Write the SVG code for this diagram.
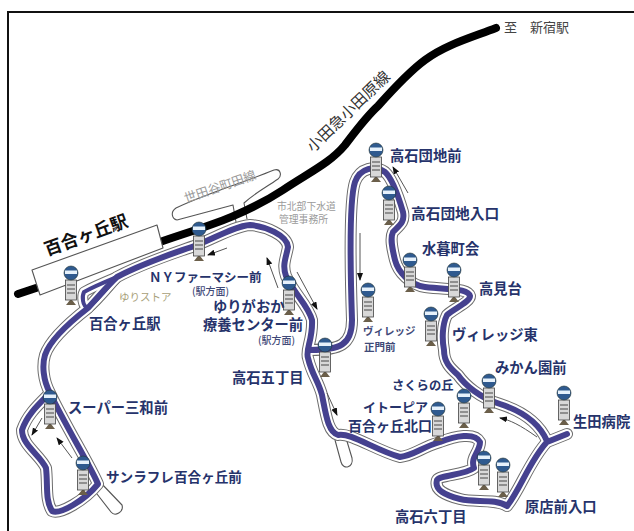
<svg xmlns="http://www.w3.org/2000/svg" xmlns:xlink="http://www.w3.org/1999/xlink" width="634" height="531" viewBox="0 0 634 531">
<style>
text{font-family:"Noto Sans CJK JP","Noto Sans",sans-serif}
.l{font-size:14.300px;font-weight:700;fill:#26336b}
.s{font-size:10px;font-weight:500;fill:#3f4a78}
.v{font-size:10.500px;font-weight:700;fill:#3f4a78}
.g{font-size:9.800px;fill:#9a9a9a}
.e{fill:none;stroke:#6d6d6d;stroke-width:12;stroke-linejoin:round;stroke-linecap:round}
.w{fill:none;stroke:#fff;stroke-width:10;stroke-linejoin:round;stroke-linecap:round}
.b{fill:none;stroke:#45418f;stroke-width:6;stroke-linejoin:round;stroke-linecap:round}
.a{fill:none;stroke:#555;stroke-width:1;marker-end:url(#ah)}
.o{fill:#fff;stroke:#555;stroke-width:1.100;stroke-linejoin:round}
</style>
<defs>
<marker id="ah" markerWidth="8" markerHeight="7" refX="7" refY="3" orient="auto" markerUnits="userSpaceOnUse"><path d="M0 0L8 3L0 6Z" fill="#111"/></marker>
<path id="r1" d="M50 393C38 405 27 415 22 430C22 445 40 455 46 468C48 485 45 500 52 511C60 515 85 500 98 484C90 465 65 425 50 393C43 380 42 365 45 355C50 340 70 322 88 308C100 295 108 285 117 277C145 262 175 253 197 245C215 238 235 226 250 225C265 226 287 235 288 247C286 258 282 265 286 276C295 295 308 305 312 320C313 340 305 350 308 358C312 375 318 380 322 395C326 415 328 432 338 435C350 432 375 450 400 457C415 455 420 448 440 442C455 436 475 432 480 442C480 452 470 457 474 468C465 475 440 475 437 480C434 490 445 495 460 499C475 503 495 498 507 506C520 490 530 460 547 442L567 434M547 441C540 425 525 412 500 404C480 398 465 385 458 375C450 368 444 362 444 350C442 340 442 325 447 315C455 308 470 302 470 296C468 288 450 290 425 287C410 285 398 272 395 260C392 248 390 238 393 232C400 225 405 222 403 212C398 195 392 178 385 172C375 165 360 168 355 182C349 200 350 260 352 320C352 345 340 350 310 350"/>
<path id="r2" d="M88 308C82 306 82 296 84 292C95 286 105 282 117 277C108 287 98 300 88 308"/>
<g id="stop">
<rect x="-1" y="22" width="2" height="7" fill="#333"/>
<path d="M-1 28H1L5 33H-5Z" fill="#6b5f4a"/>
<rect x="-5.500" y="8" width="11" height="20" fill="#d8d8d8" stroke="#444" stroke-width=".8"/>
<path d="M-4 13H4M-4 17H4M-4 21H4" stroke="#777" stroke-width="1.400"/>
<circle r="7" cy="1" fill="#2f5a8f" stroke="#233" stroke-width=".6"/>
<rect x="-6" y="-1.500" width="12" height="3.500" fill="#e6f1fb"/>
</g>
</defs>
<rect width="634" height="531" fill="#fff"/>
<rect x="8" y="12" width="650" height="550" fill="none" stroke="#111" stroke-width="2"/>
<g id="background">
<path class="o" d="M177 220C172 219 170 212 176 208C205 194 245 182 274 170C281 168 282 176 278 179C265 188 255 193 244 203L247 219M177 220L233 205L236 222"/>
<path d="M18 294L36 288M160 242C200 228 240 218 283 190C310 172 330 163 345 145C358 128 366 117 378 106C395 87 410 71 425 60C445 45 470 38 496 28" fill="none" stroke="#000" stroke-width="8" stroke-linecap="round"/>
<path id="station" class="o" d="M32 270L157 225L163 248L40 295Z"/>
<path class="o" d="M100 482L122 505C124 512 115 517 111 512L97 494"/>
<path class="o" d="M335 440L341 462C343 470 354 468 352 458L346 438"/>
</g>
<g id="connectors">
<use xlink:href="#r1" class="e"/><use xlink:href="#r2" class="e" style="stroke-width:11"/>
<use xlink:href="#r1" class="w"/><use xlink:href="#r2" class="w" style="stroke-width:9"/>
<use xlink:href="#r1" class="b"/><use xlink:href="#r2" class="b" style="stroke-width:4"/>
<path class="a" d="M227 248L208 255"/>
<path class="a" d="M278 288L267 258"/>
<path class="a" d="M297 272L317 309"/>
<path class="a" d="M42 418L32 435"/>
<path class="a" d="M72 458L57 438"/>
<path class="a" d="M360 233V280"/>
<path class="a" d="M408 193L393 167"/>
<path class="a" d="M327 393L337 415"/>
<path class="a" d="M537 437C520 425 510 420 500 418"/>
</g>
<g id="labels-map">
<text x="47" y="256" transform="rotate(-20 47 256)" style="font-size:17.500px;font-weight:700;fill:#111">百合ヶ丘駅</text>
<text x="186" y="203" class="g" transform="rotate(-19 186 203)" style="font-size:12.500px">世田谷町田線</text>
<text x="313" y="153" transform="rotate(-44 313 153)" style="font-size:15.500px;fill:#333">小田急小田原線</text>
<text x="504" y="32" style="font-size:13px;fill:#444">至　新宿駅</text>
<text x="277" y="210" class="g">市北部下水道</text>
<text x="279" y="223" class="g">管理事務所</text>
<text x="119" y="301" class="g" style="font-size:10.500px;fill:#a89f7a">ゆりストア</text>
</g>
<g id="n1"><use xlink:href="#stop" x="71" y="272"/><text class="l" x="89" y="329">百合ヶ丘駅</text></g>
<g id="n2"><use xlink:href="#stop" x="199" y="228"/><text class="l" x="149" y="282" style="font-size:12.500px">ＮＹファーマシー前</text><text class="s" x="192" y="295">(駅方面)</text></g>
<g id="n3"><use xlink:href="#stop" x="289" y="282"/><text class="l" x="213" y="312">ゆりがおか</text><text class="l" x="203" y="330">療養センター前</text><text class="s" x="258" y="344">(駅方面)</text></g>
<g id="n4"><use xlink:href="#stop" x="325" y="344"/><text class="l" x="232" y="383">高石五丁目</text></g>
<g id="n5"><use xlink:href="#stop" x="50" y="396"/><text class="l" x="68" y="413">スーパー三和前</text></g>
<g id="n6"><use xlink:href="#stop" x="83" y="462"/><text class="l" x="106" y="482" style="font-size:13.600px">サンラフレ百合ヶ丘前</text></g>
<g id="n7"><use xlink:href="#stop" x="368" y="289"/><text class="v" x="363" y="335">ヴィレッジ</text><text class="v" x="364" y="351">正門前</text></g>
<g id="n8"><use xlink:href="#stop" x="376" y="149"/><text class="l" x="390" y="161">高石団地前</text></g>
<g id="n9"><use xlink:href="#stop" x="389" y="192"/><text class="l" x="411" y="219" style="font-size:14.700px">高石団地入口</text></g>
<g id="n10"><use xlink:href="#stop" x="410" y="259"/><text class="l" x="422" y="254">水暮町会</text></g>
<g id="n11"><use xlink:href="#stop" x="454" y="269"/><text class="l" x="479" y="294">高見台</text></g>
<g id="n12"><use xlink:href="#stop" x="431" y="313"/><text class="l" x="452" y="340">ヴィレッジ東</text></g>
<g id="n13"><use xlink:href="#stop" x="489" y="380"/><text class="l" x="495" y="373">みかん園前</text></g>
<g id="n14"><use xlink:href="#stop" x="464" y="395"/><text class="l" x="392" y="390" style="font-size:12.300px">さくらの丘</text></g>
<g id="n15"><use xlink:href="#stop" x="438" y="408"/><text class="l" x="363" y="412" style="font-size:13px">イトーピア</text><text class="l" x="348" y="431" style="font-size:14px">百合ヶ丘北口</text></g>
<g id="n16"><use xlink:href="#stop" x="564" y="392"/><text class="l" x="573" y="427">生田病院</text></g>
<g id="n17"><use xlink:href="#stop" x="484" y="457"/><text class="l" x="395" y="522">高石六丁目</text></g>
<g id="n18"><use xlink:href="#stop" x="503" y="464"/><text class="l" x="525" y="512">原店前入口</text></g>
</svg>
